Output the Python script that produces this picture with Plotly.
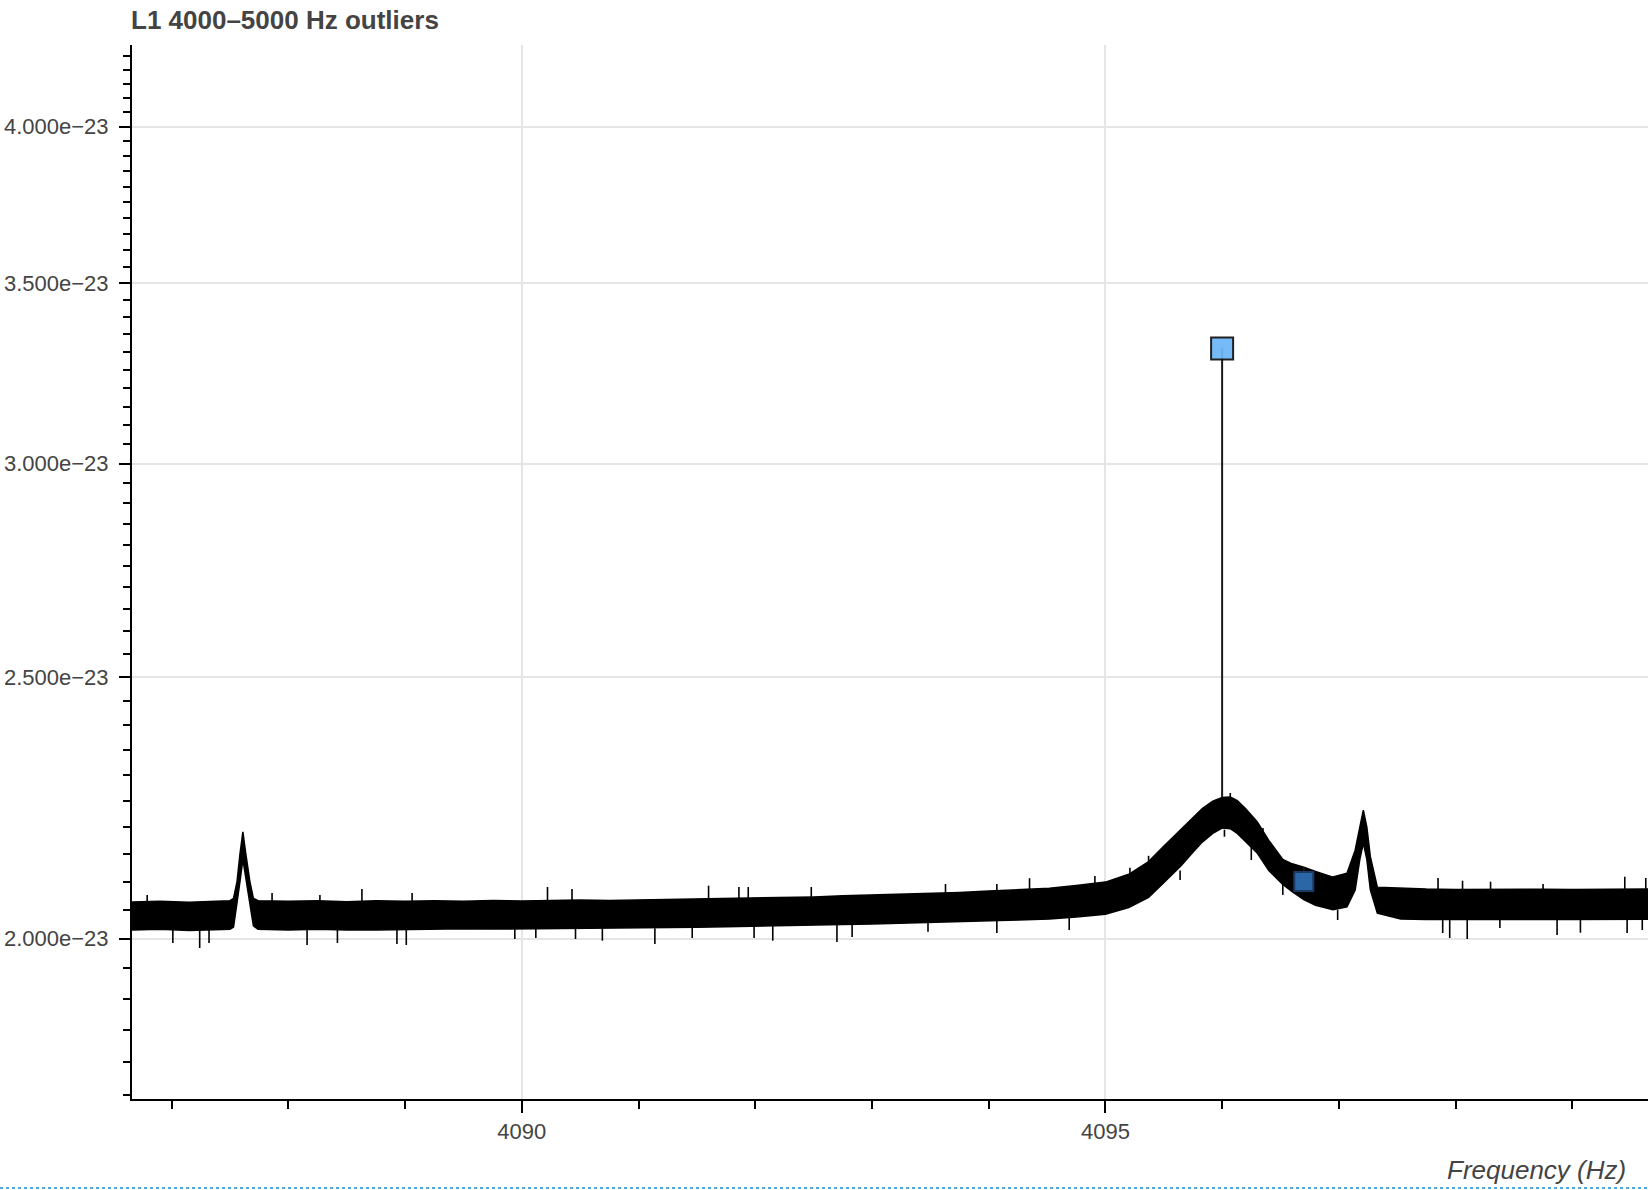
import numpy as np
import plotly.graph_objects as go

# ---------------- data ----------------
SCALE = 1e-23  # all power values below are in units of 1e-23

# spectrum: core band (lower / upper envelope of the dense ASD trace)
freq = [4086.64, 4086.90, 4087.15, 4087.35, 4087.50, 4087.53, 4087.56, 4087.585,
        4087.61, 4087.635, 4087.67, 4087.70, 4087.74, 4088.00, 4088.25, 4088.50,
        4088.75, 4089.00, 4089.25, 4089.50, 4089.75, 4090.00, 4090.25, 4090.50,
        4090.75, 4091.00, 4091.25, 4091.50, 4091.75, 4092.00, 4092.25, 4092.50,
        4092.75, 4093.00, 4093.25, 4093.50, 4093.75, 4094.00, 4094.25, 4094.52,
        4094.75, 4095.00, 4095.20, 4095.37, 4095.50, 4095.65, 4095.75, 4095.83,
        4095.92, 4096.00, 4096.07, 4096.13, 4096.20, 4096.30, 4096.40, 4096.52,
        4096.60, 4096.70, 4096.80, 4096.95, 4097.07, 4097.14, 4097.18, 4097.21,
        4097.24, 4097.27, 4097.33, 4097.53, 4097.75, 4098.00, 4098.25, 4098.50,
        4098.75, 4099.00, 4099.25, 4099.50, 4099.65]

spec_upper = [2.0636, 2.0650, 2.0630, 2.0640, 2.0660, 2.070, 2.100, 2.150,
              2.191, 2.150, 2.100, 2.070, 2.066, 2.0650, 2.0660, 2.0640,
              2.0660, 2.0650, 2.0660, 2.0650, 2.0665, 2.0655, 2.0665, 2.0670,
              2.0665, 2.0672, 2.0685, 2.0690, 2.0700, 2.0707, 2.0718, 2.0725,
              2.0745, 2.0760, 2.0770, 2.0785, 2.0805, 2.0831, 2.0855, 2.0880,
              2.0930, 2.0990, 2.1130, 2.1360, 2.1640, 2.1960, 2.2160, 2.2350,
              2.2490, 2.2560, 2.2570, 2.2500, 2.2350, 2.2100, 2.1750, 2.1400,
              2.1320, 2.1260, 2.1180, 2.1080, 2.1150, 2.1570, 2.2000, 2.2320,
              2.2000, 2.1450, 2.0900, 2.0880, 2.0865, 2.0860, 2.0865, 2.0858,
              2.0862, 2.0860, 2.0866, 2.0862, 2.0868]

spec_lower = [2.0149, 2.0160, 2.0140, 2.0150, 2.0160, 2.020, 2.060, 2.100,
              2.140, 2.100, 2.060, 2.022, 2.016, 2.0150, 2.0160, 2.0150,
              2.0150, 2.0160, 2.0160, 2.0170, 2.0165, 2.0166, 2.0170, 2.0172,
              2.0178, 2.0183, 2.0190, 2.0195, 2.0205, 2.0218, 2.0225, 2.0232,
              2.0245, 2.0253, 2.0265, 2.0280, 2.0292, 2.0305, 2.0320, 2.0340,
              2.0375, 2.0420, 2.0540, 2.0720, 2.0980, 2.1290, 2.1530, 2.1720,
              2.1880, 2.1980, 2.1970, 2.1880, 2.1730, 2.1520, 2.1200, 2.0950,
              2.0820, 2.0680, 2.0580, 2.0500, 2.0550, 2.0850, 2.1400, 2.1700,
              2.1400, 2.0850, 2.0440, 2.0340, 2.0330, 2.0330, 2.0335, 2.0328,
              2.0332, 2.0330, 2.0334, 2.0331, 2.0335]

# prominent single-bin excursions of the trace above / below the band
up_spike_freq = [4086.79, 4087.86, 4088.27, 4088.63, 4089.06, 4090.22, 4090.43,
                 4091.60, 4091.86, 4091.94, 4092.48, 4093.63, 4094.07, 4094.35,
                 4094.91, 4095.21, 4095.37, 4096.07, 4096.35, 4097.85, 4098.06,
                 4098.30, 4098.75, 4099.45, 4099.63]
up_spike_tip = [2.0760, 2.0796, 2.0760, 2.0867, 2.0796, 2.0902, 2.0867,
                2.0926, 2.0902, 2.0902, 2.0902, 2.0956, 2.0956, 2.1060,
                2.1100, 2.1248, 2.1466, 2.2649, 2.1982, 2.1064, 2.1015,
                2.0997, 2.0956, 2.1087, 2.1064]
up_spike_base = [2.0636, 2.0654, 2.0654, 2.0654, 2.0654, 2.0654, 2.0660,
                 2.0680, 2.0690, 2.0700, 2.0720, 2.0790, 2.0840, 2.0860,
                 2.0940, 2.1100, 2.1300, 2.2500, 2.1900, 2.0860, 2.0860,
                 2.0860, 2.0860, 2.0860, 2.0860]

down_spike_freq = [4087.01, 4087.24, 4087.32, 4088.16, 4088.42, 4088.93, 4089.01,
                   4089.94, 4090.12, 4090.46, 4090.69, 4091.14, 4091.46, 4091.99,
                   4092.15, 4092.70, 4092.83, 4093.48, 4094.07, 4094.69, 4095.64,
                   4096.02, 4096.25, 4096.52, 4096.99, 4097.89, 4097.95, 4098.10,
                   4098.38, 4098.87, 4099.07, 4099.47, 4099.60]
down_spike_tip = [1.9927, 1.9842, 1.9927, 1.9893, 1.9927, 1.9910, 1.9893,
                  1.9995, 2.0012, 1.9995, 1.9966, 1.9910, 2.0012, 2.0012,
                  1.9966, 1.9944, 2.0029, 2.0120, 2.0097, 2.0149, 2.1028,
                  2.1820, 2.1390, 2.0760, 2.0322, 2.0097, 2.0012, 1.9995,
                  2.0183, 2.0063, 2.0103, 2.0097, 2.0149]
down_spike_base = [2.015, 2.015, 2.015, 2.015, 2.015, 2.016, 2.016,
                   2.016, 2.017, 2.017, 2.017, 2.018, 2.019, 2.021,
                   2.022, 2.024, 2.024, 2.027, 2.031, 2.036, 2.120,
                   2.195, 2.165, 2.095, 2.050, 2.033, 2.033, 2.033,
                   2.033, 2.033, 2.033, 2.033, 2.033]

# outliers
outlier_freq = [4096.0, 4096.7]
outlier_power = [3.31, 2.10]
outlier_base = [2.256, 2.126]        # spectrum level at the outlier frequency
outlier_colors = ["#6cb6f8", "#2f6eb3"]
outlier_edges = ["#111111", "#1d3f6a"]
outlier_sizes = [22, 19]

y_tick_vals = [2.0, 2.5, 3.0, 3.5, 4.0]
y_tick_text = ["2.000e\u221223", "2.500e\u221223", "3.000e\u221223",
               "3.500e\u221223", "4.000e\u221223"]
x_tick_vals = [4090, 4095]
x_tick_text = ["4090", "4095"]

# ---------------- figure ----------------
FONT = "Helvetica, Arial, 'Liberation Sans', sans-serif"
W, H = 1648, 1190
BOTTOM_PX = 1099              # plot-area bottom in page pixels
ML, MR, MT, MB = 132, 0, 45, H - BOTTOM_PX
PW, PH = W - ML - MR, H - MT - MB

fig = go.Figure()

up = [v * SCALE for v in spec_upper]
lo = [v * SCALE for v in spec_lower]
fig.add_trace(go.Scatter(
    x=freq + freq[::-1], y=up + lo[::-1],
    fill="toself", fillcolor="black", mode="lines",
    line=dict(color="black", width=1.5), hoverinfo="skip", showlegend=False))

sx, sy = [], []
for f, t, b in zip(up_spike_freq + down_spike_freq,
                   up_spike_tip + down_spike_tip,
                   up_spike_base + down_spike_base):
    sx += [f, f, None]
    sy += [b * SCALE, t * SCALE, None]
fig.add_trace(go.Scatter(x=sx, y=sy, mode="lines",
                         line=dict(color="black", width=1.6),
                         hoverinfo="skip", showlegend=False))

for f, p, b in zip(outlier_freq, outlier_power, outlier_base):
    fig.add_trace(go.Scatter(
        x=[f, f], y=[b * SCALE, p * SCALE], mode="lines",
        line=dict(color="#1a1a1a", width=2), hoverinfo="skip", showlegend=False))

fig.add_trace(go.Scatter(
    x=outlier_freq, y=[p * SCALE for p in outlier_power], mode="markers",
    marker=dict(symbol="square", size=outlier_sizes, color=outlier_colors,
                opacity=0.93, line=dict(color=outlier_edges, width=2)),
    showlegend=False))

minor_y = [v * SCALE for v in np.round(np.arange(1.75, 4.30, 0.05), 2)]
tickfont = dict(family=FONT, size=22, color="#444444")

fig.update_layout(
    width=W, height=H,
    margin=dict(l=ML, r=MR, t=MT, b=MB, pad=0, autoexpand=False),
    paper_bgcolor="white", plot_bgcolor="white",
    showlegend=False,
    title=dict(text="L1 4000\u20135000 Hz outliers",
               font=dict(family=FONT, size=26, color="#444444", weight="bold"),
               xref="container", x=131 / W, xanchor="left",
               yref="container", y=1 - 20 / H, yanchor="middle"),
    xaxis=dict(range=[4086.66, 4099.649], tickmode="array",
               tickvals=x_tick_vals, ticktext=x_tick_text, tickfont=tickfont,
               ticks="outside", ticklen=12, tickwidth=2, tickcolor="black",
               showline=True, linecolor="black", linewidth=2,
               showgrid=True, gridcolor="#e5e5e5", gridwidth=2, zeroline=False,
               minor=dict(tickmode="linear", tick0=4087, dtick=1, ticks="outside",
                          ticklen=8, tickwidth=2, tickcolor="black", showgrid=False)),
    yaxis=dict(type="log", range=[-22.7584, -22.36765], tickmode="array",
               tickvals=[v * SCALE for v in y_tick_vals], ticktext=y_tick_text,
               tickfont=tickfont, ticklabelstandoff=6,
               ticks="outside", ticklen=11, tickwidth=2, tickcolor="black",
               showline=True, linecolor="black", linewidth=2,
               showgrid=True, gridcolor="#e5e5e5", gridwidth=2, zeroline=False,
               minor=dict(tickmode="array", tickvals=minor_y, ticks="outside",
                          ticklen=7, tickwidth=2, tickcolor="black", showgrid=False)),
    annotations=[dict(text="Frequency (Hz)", xref="paper", yref="paper",
                      x=(1628 - ML) / PW, y=-(1170 - BOTTOM_PX) / PH,
                      xanchor="right", yanchor="middle", showarrow=False,
                      font=dict(family=FONT, size=26, color="#444444", style="italic"))],
    shapes=[dict(type="line", xref="paper", yref="paper",
                 x0=-ML / PW, x1=1,
                 y0=-(1188 - BOTTOM_PX) / PH, y1=-(1188 - BOTTOM_PX) / PH,
                 line=dict(color="#4fa6dc", width=2, dash="dot"))],
)

fig.write_html("out.html",
               config={"displayModeBar": False},
               post_script="document.body.style.margin='0';"
                           "document.body.style.overflow='hidden';")
